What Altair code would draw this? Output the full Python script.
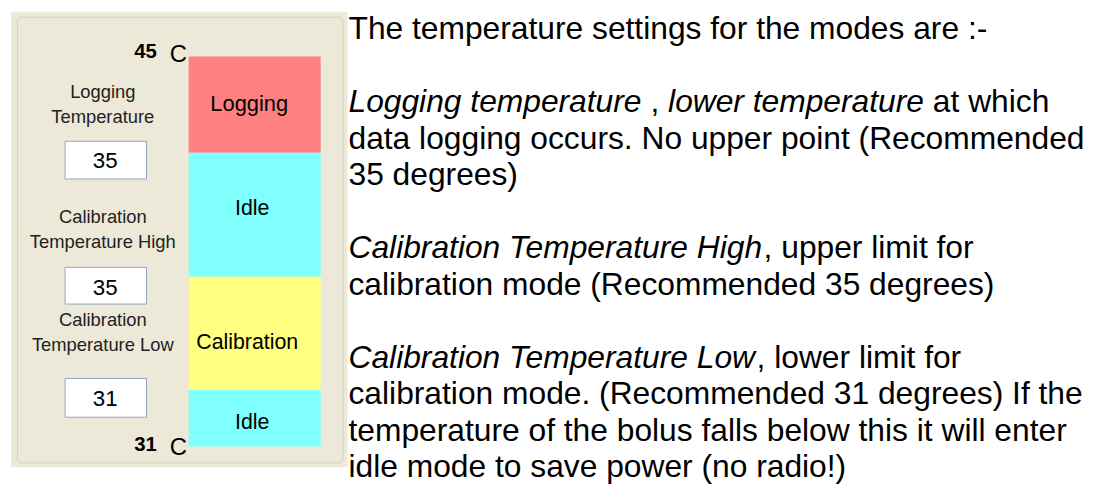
import altair as alt
import pandas as pd

# ---------------- content ----------------
top_temp_label = "45"
bottom_temp_label = "31"
unit_label = "C"

modes = ["Logging", "Idle", "Calibration", "Idle"]
mode_colors = ["#FF8080", "#80FFFF", "#FFFF80", "#80FFFF"]
mode_band_sizes = [97, 125, 114, 57]          # relative height of each band in the bar

setting_labels = [["Logging", "Temperature"],
                  ["Calibration", "Temperature High"],
                  ["Calibration", "Temperature Low"]]
setting_values = ["35", "35", "31"]

# text on the right: each line is a list of (text, italic) runs; None = blank line
doc_lines = [
    [("The temperature settings for the modes are :-", False)],
    None,
    [("Logging temperature", True), (" , ", False), ("lower temperature", True), (" at which", False)],
    [("data logging occurs. No upper point (Recommended", False)],
    [("35 degrees)", False)],
    None,
    [("Calibration Temperature High", True), (", upper limit for", False)],
    [("calibration mode (Recommended 35 degrees)", False)],
    None,
    [("Calibration Temperature Low", True), (", lower limit for", False)],
    [("calibration mode. (Recommended 31 degrees) If the", False)],
    [("temperature of the bolus falls below this it will enter", False)],
    [("idle mode to save power (no radio!)", False)],
]

# ---------------- layout ----------------
W, H = 1091, 476          # whole page minus the 8px margin
OFF = 8
FONT = "Liberation Sans"

# Arial / Liberation Sans advance widths (per 1000 em)
ADV = {' ': 278, '!': 278, '(': 333, ')': 333, ',': 278, '-': 333, '.': 278, ':': 278,
       'A': 667, 'B': 667, 'C': 722, 'D': 722, 'E': 667, 'F': 611, 'G': 778, 'H': 722,
       'I': 278, 'J': 500, 'K': 667, 'L': 556, 'M': 833, 'N': 722, 'O': 778, 'P': 667,
       'Q': 778, 'R': 722, 'S': 667, 'T': 611, 'U': 722, 'V': 667, 'W': 944, 'X': 667,
       'Y': 667, 'Z': 611,
       'a': 556, 'b': 556, 'c': 500, 'd': 556, 'e': 556, 'f': 278, 'g': 556, 'h': 556,
       'i': 222, 'j': 222, 'k': 500, 'l': 222, 'm': 833, 'n': 556, 'o': 556, 'p': 556,
       'q': 556, 'r': 333, 's': 500, 't': 278, 'u': 556, 'v': 500, 'w': 722, 'x': 500,
       'y': 500, 'z': 500}


def adv(s, size):
    return sum(ADV.get(ch, 556) for ch in s) * size / 1000.0


xs = alt.Scale(domain=[OFF, OFF + W], nice=False, zero=False)
ys = alt.Scale(domain=[OFF, OFF + H], nice=False, zero=False, reverse=True)


def rect_layer(df, **mark):
    return alt.Chart(df).mark_rect(**mark).encode(
        x=alt.X("x:Q", scale=xs, axis=None),
        x2="x2:Q",
        y=alt.Y("y:Q", scale=ys, axis=None),
        y2="y2:Q",
    )


def text_layer(df, **mark):
    base = dict(font=FONT, baseline="alphabetic")
    base.update(mark)
    return alt.Chart(df).mark_text(**base).encode(
        x=alt.X("x:Q", scale=xs, axis=None),
        y=alt.Y("y:Q", scale=ys, axis=None),
        text="t:N",
        size=alt.Size("fs:Q", scale=None),
        color=alt.Color("c:N", scale=None),
    )


# panel background and group box
panel_bg = rect_layer(pd.DataFrame({"x": [11], "x2": [350], "y": [10], "y2": [469]}),
                      color="#ECE9D8")
panel_box = rect_layer(pd.DataFrame({"x": [17.5], "x2": [345.5], "y": [15.5], "y2": [464.5]}),
                       fillOpacity=0, stroke="#D0D0BF", strokeWidth=1, cornerRadius=5)

# stacked mode bar
bar_top, bar_left, bar_right = 55, 190, 323
tops, bots = [], []
cur = bar_top
for s in mode_band_sizes:
    tops.append(cur)
    cur += s
    bots.append(cur)
bar_df = pd.DataFrame({"mode": modes, "fill": mode_colors,
                       "x": bar_left, "x2": bar_right, "y": tops, "y2": bots})
bars = alt.Chart(bar_df).mark_rect().encode(
    x=alt.X("x:Q", scale=xs, axis=None), x2="x2:Q",
    y=alt.Y("y:Q", scale=ys, axis=None), y2="y2:Q",
    color=alt.Color("fill:N", scale=None),
)

bar_label_x = [251, 254, 249, 254]
bar_label_y = [110, 215, 350, 430]
bar_labels = text_layer(pd.DataFrame({"x": bar_label_x, "y": bar_label_y, "t": modes,
                                      "fs": [22, 21.5, 21.5, 21.5], "c": "#000000"}),
                        align="center")

# setting value boxes
box_tops = [140.5, 267.5, 379.5]
box_bots = [178.5, 304.5, 418.5]
boxes = rect_layer(pd.DataFrame({"x": 65.5, "x2": 147.5, "y": box_tops, "y2": box_bots}),
                   color="#FFFFFF", stroke="#8FA6C0", strokeWidth=1)
box_text = text_layer(pd.DataFrame({"x": 106, "y": [167, 295, 407], "t": setting_values,
                                    "fs": 22.5, "c": "#000000"}), align="center")

label_base = [(97, 122), (223, 248), (327, 352)]
lab_rows = []
for (l1, l2), (b1, b2) in zip(setting_labels, label_base):
    lab_rows.append({"x": 103.5, "y": b1, "t": l1, "fs": 18.5, "c": "#222222"})
    lab_rows.append({"x": 103.5, "y": b2, "t": l2, "fs": 18.5, "c": "#222222"})
labels = text_layer(pd.DataFrame(lab_rows), align="center")

temp_nums = text_layer(pd.DataFrame({"x": [158, 158], "y": [57, 453],
                                     "t": [top_temp_label, bottom_temp_label],
                                     "fs": 20.5, "c": "#000000"}),
                       align="right", fontWeight="bold")
temp_units = text_layer(pd.DataFrame({"x": [171, 171], "y": [61, 457],
                                      "t": [unit_label, unit_label],
                                      "fs": 24, "c": "#000000"}), align="left")

# right-hand document text (Vega trims run whitespace, so spaces become offsets)
DOC_X, DOC_Y0, DOC_LH, DOC_FS = 351, 37.5, 36.8, 32
ITAL_TIGHT = 1.5
runs_norm, runs_ital = [], []
for k, line in enumerate(doc_lines):
    if not line:
        continue
    x = DOC_X
    y = DOC_Y0 + k * DOC_LH
    for i, (txt, ital) in enumerate(line):
        lead = len(txt) - len(txt.lstrip(" "))
        core = txt.strip(" ")
        row = {"x": x + adv(" " * lead, DOC_FS), "y": y, "t": core, "fs": DOC_FS, "c": "#000000"}
        (runs_ital if ital else runs_norm).append(row)
        x += adv(txt, DOC_FS)
        if ital and i + 1 < len(line) and line[i + 1][0].startswith(","):
            x -= ITAL_TIGHT
doc_norm = text_layer(pd.DataFrame(runs_norm), align="left")
doc_ital = text_layer(pd.DataFrame(runs_ital), align="left", fontStyle="italic")

chart = alt.layer(
    panel_bg, panel_box, bars, bar_labels, boxes, box_text, labels,
    temp_nums, temp_units, doc_norm, doc_ital,
).properties(
    width=W, height=H,
    autosize=alt.AutoSizeParams(type="none"),
    padding=0,
    background="#FFFFFF",
).configure_view(strokeWidth=0)

chart.save("out.html", embed_options={"renderer": "svg", "actions": False})
